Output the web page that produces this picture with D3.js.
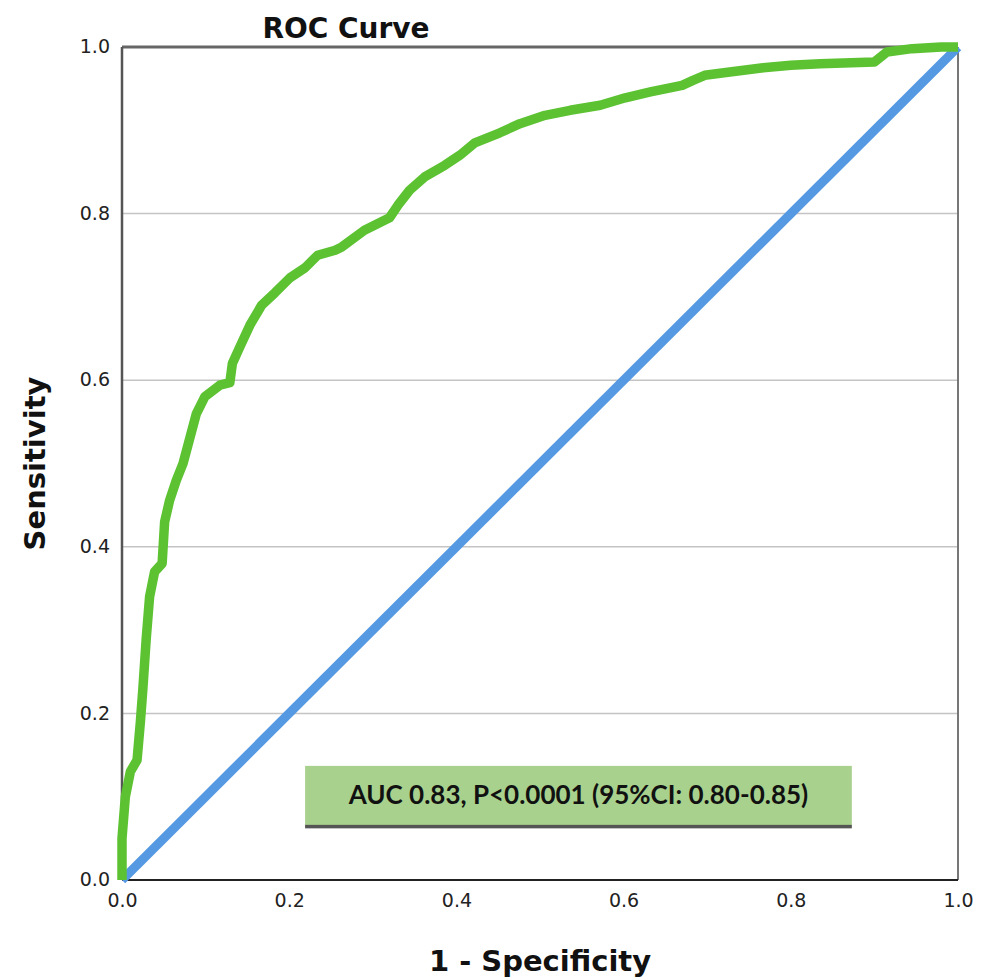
<!DOCTYPE html>
<html>
<head>
<meta charset="utf-8">
<script src="https://cdn.jsdelivr.net/npm/d3@7"></script>
<style>
  body { margin: 0; background: #fff; }
  svg { display: block; }
  .tick text { font-family: "DejaVu Sans", sans-serif; font-size: 19px; fill: #222; }
</style>
</head>
<body>
<main></main>
<script>
"use strict";

// ROC curve points (1 - specificity, sensitivity)
const fpr = [0, 0, 0.004, 0.01, 0.018, 0.022, 0.025, 0.029, 0.033, 0.039, 0.048, 0.051, 0.057, 0.065,
  0.073, 0.081, 0.089, 0.099, 0.117, 0.129, 0.132, 0.141, 0.153, 0.167, 0.183, 0.201, 0.219, 0.234,
  0.255, 0.263, 0.29, 0.32, 0.33, 0.344, 0.362, 0.386, 0.404, 0.422, 0.452, 0.476, 0.506, 0.536,
  0.572, 0.602, 0.632, 0.67, 0.683, 0.697, 0.727, 0.767, 0.8, 0.835, 0.9, 0.915, 0.945, 0.98, 1];
const tpr = [0, 0.05, 0.10, 0.13, 0.144, 0.19, 0.23, 0.29, 0.34, 0.37, 0.38, 0.43, 0.456, 0.48,
  0.50, 0.53, 0.56, 0.58, 0.594, 0.597, 0.62, 0.64, 0.666, 0.69, 0.705, 0.723, 0.735, 0.75,
  0.756, 0.76, 0.78, 0.795, 0.81, 0.828, 0.844, 0.858, 0.870, 0.885, 0.897, 0.908, 0.918, 0.924,
  0.930, 0.939, 0.946, 0.954, 0.96, 0.966, 0.97, 0.975, 0.978, 0.98, 0.982, 0.994, 0.998, 1, 1];
const ticks = [0, 0.2, 0.4, 0.6, 0.8, 1.0];
const chartTitle = "ROC Curve";
const xLabel = "1 - Specificity";
const yLabel = "Sensitivity";
const aucText = "AUC 0.83, P<0.0001 (95%CI: 0.80-0.85)";

const w = 988;
const h = 978;
const margin = { top: 47, right: 30, bottom: 98, left: 122 };
const innerW = w - margin.left - margin.right;
const innerH = h - margin.top - margin.bottom;

const svg = d3.select("main").append("svg").attr("width", w).attr("height", h);
const g = svg.append("g").attr("transform", `translate(${margin.left}, ${margin.top})`);

const x = d3.scaleLinear().domain([0, 1]).range([0, innerW]);
const y = d3.scaleLinear().domain([0, 1]).range([innerH, 0]);

//Gridlines
g.selectAll(".grid")
  .data(ticks.slice(1, -1))
  .enter()
  .append("line")
  .attr("x1", 0)
  .attr("x2", innerW)
  .attr("y1", (d) => y(d))
  .attr("y2", (d) => y(d))
  .attr("stroke", "#c4c4c4")
  .attr("stroke-width", 1.5);

//Axes
const xAxis = d3.axisBottom(x).tickValues(ticks).tickFormat(d3.format(".1f")).tickSize(0).tickPadding(13);
const yAxis = d3.axisLeft(y).tickValues(ticks).tickFormat(d3.format(".1f")).tickSize(0).tickPadding(12);

const xG = g.append("g").attr("transform", `translate(0, ${innerH})`).call(xAxis);
const yG = g.append("g").call(yAxis);
xG.select(".domain").remove();
yG.select(".domain").remove();
xG.selectAll(".tick text").attr("dy", "0.75em");
yG.selectAll(".tick text").attr("dy", "0.3em");

//Frame
g.append("line").attr("x1", 0).attr("x2", innerW).attr("y1", 0).attr("y2", 0)
  .attr("stroke", "#666").attr("stroke-width", 3);
g.append("line").attr("x1", 0).attr("x2", 0).attr("y1", 0).attr("y2", innerH)
  .attr("stroke", "#555").attr("stroke-width", 2.5);
g.append("line").attr("x1", innerW).attr("x2", innerW).attr("y1", 0).attr("y2", innerH)
  .attr("stroke", "#777").attr("stroke-width", 2);
g.append("line").attr("x1", 0).attr("x2", innerW).attr("y1", innerH).attr("y2", innerH)
  .attr("stroke", "#222").attr("stroke-width", 2);

//Reference diagonal
g.append("line")
  .attr("x1", x(0)).attr("y1", y(0))
  .attr("x2", x(1)).attr("y2", y(1))
  .attr("stroke", "#5599e3")
  .attr("stroke-width", 9);

//ROC curve
const rocData = fpr.map((d, i) => [d, tpr[i]]);
const line = d3.line().x((d) => x(d[0])).y((d) => y(d[1]));
g.append("path")
  .datum(rocData)
  .attr("d", line)
  .attr("fill", "none")
  .attr("stroke", "#5cc232")
  .attr("stroke-width", 9.5)
  .attr("stroke-linejoin", "round");

//AUC box
const box = g.append("g").attr("transform", `translate(${x(0.219)}, ${y(0.137)})`);
const boxW = x(0.873) - x(0.219);
const boxH = y(0.065) - y(0.137);
box.append("rect").attr("width", boxW).attr("height", boxH).attr("fill", "#a9d18e");
box.append("rect").attr("y", boxH - 1).attr("width", boxW).attr("height", 3.5).attr("fill", "#555");
box.append("text")
  .attr("x", boxW / 2)
  .attr("y", boxH / 2 + 1)
  .attr("text-anchor", "middle")
  .attr("dominant-baseline", "middle")
  .style("font-family", "Lato, sans-serif")
  .style("font-weight", "bold")
  .style("font-size", "26px")
  .attr("fill", "#111")
  .text(aucText);

//Titles
svg.append("text")
  .attr("x", 346)
  .attr("y", 38)
  .attr("text-anchor", "middle")
  .style("font-family", "'DejaVu Sans', sans-serif")
  .style("font-weight", "bold")
  .style("font-size", "28px")
  .attr("fill", "#111")
  .text(chartTitle);

svg.append("text")
  .attr("x", margin.left + x(0.5))
  .attr("y", 971)
  .attr("text-anchor", "middle")
  .style("font-family", "'DejaVu Sans', sans-serif")
  .style("font-weight", "bold")
  .style("font-size", "29px")
  .attr("fill", "#111")
  .text(xLabel);

svg.append("text")
  .attr("transform", `translate(45, ${margin.top + y(0.5)}) rotate(-90)`)
  .attr("text-anchor", "middle")
  .style("font-family", "'DejaVu Sans', sans-serif")
  .style("font-weight", "bold")
  .style("font-size", "29px")
  .attr("fill", "#111")
  .text(yLabel);
</script>
</body>
</html>
